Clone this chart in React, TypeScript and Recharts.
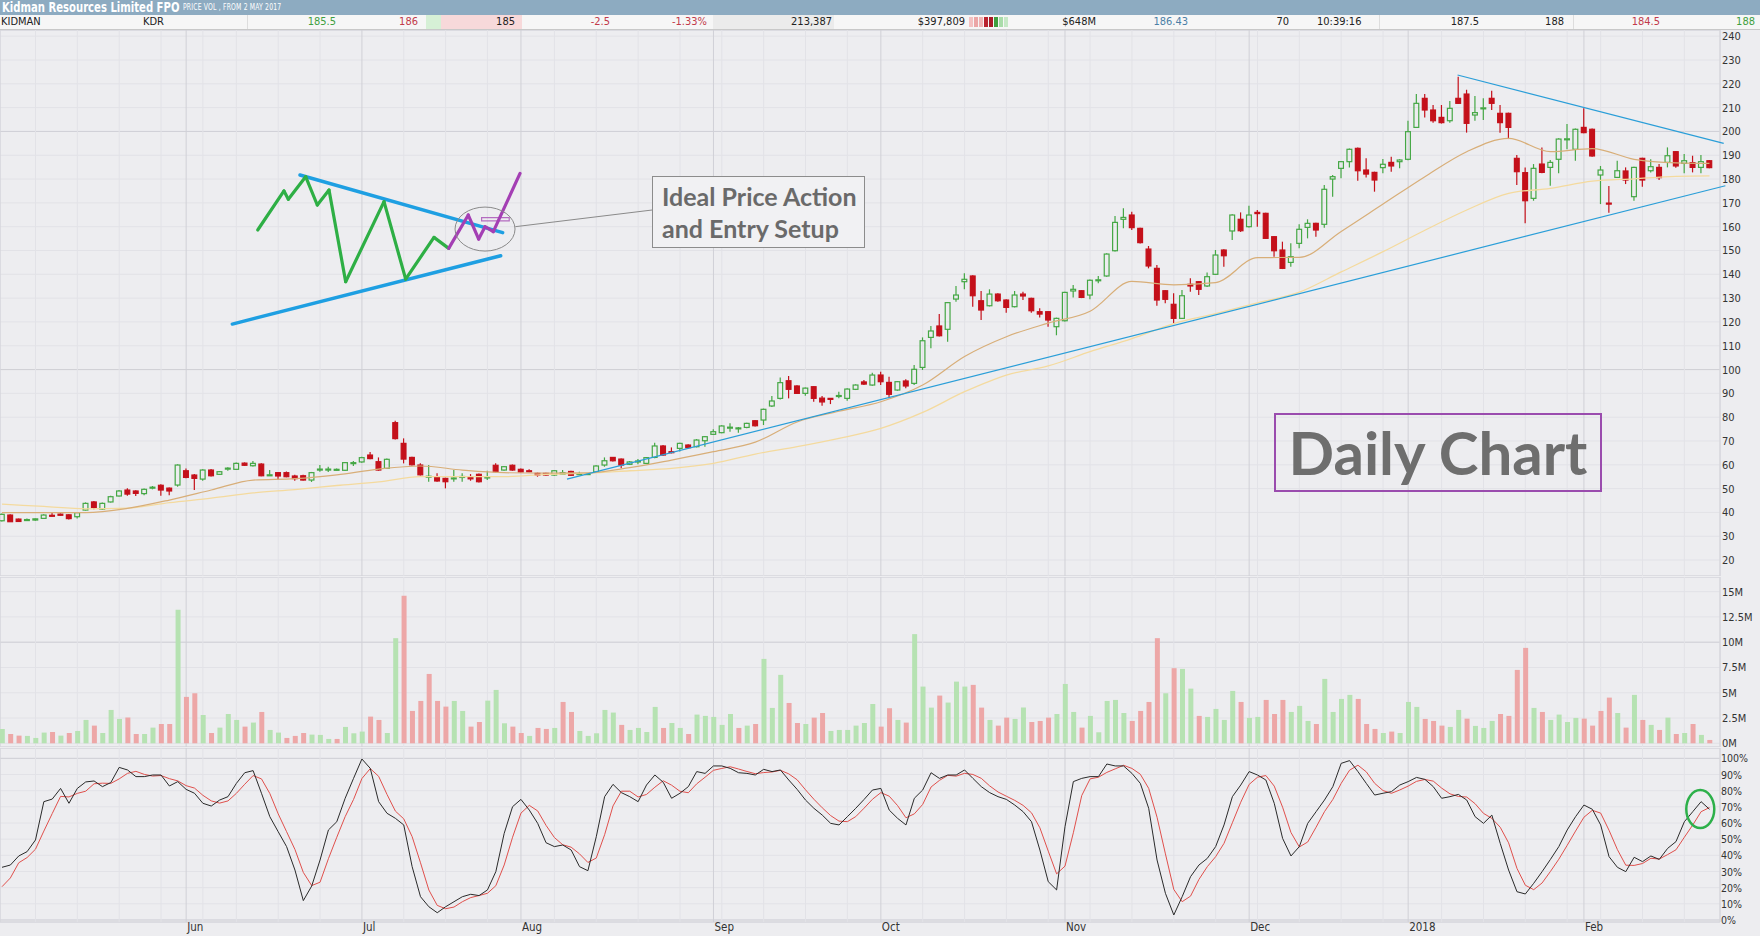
import React from "react";
import {
  ComposedChart,
  Bar,
  Line,
  XAxis,
  YAxis,
  CartesianGrid,
  ReferenceLine,
  ReferenceDot,
  ReferenceArea,
  Cell,
} from "recharts";

// daily candles [open, high, low, close], 2 May 2017 .. mid Feb 2018
const OHLC: [number, number, number, number][] = [
  // May
  [36.5, 39.5, 36.2, 39.2], [38.9, 39.2, 36.0, 36.1], [37.2, 37.4, 36.0, 36.2], [36.6, 37.4, 36.4, 37.0],
  [36.8, 37.6, 36.5, 37.3], [37.5, 39.2, 37.4, 38.9], [38.8, 39.9, 38.2, 38.4], [39.3, 39.6, 38.6, 38.8],
  [39.0, 39.3, 37.0, 37.4], [38.2, 40.2, 37.5, 39.9], [41.0, 44.2, 40.8, 43.8], [44.4, 44.8, 41.3, 42.1],
  [41.4, 44.2, 41.0, 43.8], [44.4, 47.0, 44.2, 46.6], [46.9, 49.4, 46.7, 49.0], [49.4, 50.1, 47.0, 47.7],
  [49.0, 49.3, 46.9, 48.0], [47.9, 50.0, 47.2, 49.7], [50.3, 51.1, 49.7, 50.6], [51.4, 51.8, 47.0, 49.4],
  [50.2, 50.5, 47.2, 49.0], [51.5, 60.2, 50.8, 59.9],
  // Jun
  [57.5, 58.4, 54.3, 54.7], [55.7, 56.1, 49.4, 54.3], [54.0, 58.1, 53.3, 57.8], [57.8, 58.2, 55.1, 55.4],
  [56.0, 57.4, 55.8, 57.1], [58.2, 59.0, 57.5, 58.6], [58.1, 61.0, 57.8, 60.6], [60.7, 61.0, 59.5, 59.8],
  [59.6, 61.6, 59.3, 60.6], [60.3, 60.6, 55.2, 55.4], [55.5, 57.8, 55.4, 55.8], [56.7, 57.0, 53.6, 55.3],
  [56.7, 57.2, 54.8, 55.0], [55.3, 55.8, 53.3, 54.2], [55.4, 55.8, 53.4, 53.6], [53.6, 57.0, 52.8, 56.7],
  [57.9, 59.9, 57.1, 58.2], [57.9, 59.2, 57.0, 58.2], [57.7, 58.4, 57.5, 58.1], [57.7, 61.2, 57.4, 60.9],
  [60.5, 61.6, 59.5, 60.9],
  // Jul
  [61.2, 63.4, 60.9, 63.0], [64.1, 65.4, 62.3, 62.6], [61.3, 63.1, 57.5, 57.8], [58.5, 62.6, 58.2, 62.3],
  [77.7, 78.5, 70.6, 71.0], [69.0, 71.1, 60.6, 62.4], [63.1, 63.4, 59.7, 60.0], [59.9, 60.6, 55.5, 55.8],
  [54.8, 59.9, 52.9, 55.2], [55.0, 56.4, 52.9, 53.2], [54.3, 54.6, 50.1, 52.9], [54.1, 57.8, 52.9, 54.5],
  [54.8, 56.4, 52.9, 55.1], [55.0, 56.1, 53.3, 54.1], [56.0, 56.3, 52.6, 52.9], [54.5, 57.5, 53.6, 54.9],
  [59.8, 60.6, 56.8, 57.1], [57.8, 59.5, 57.5, 59.2], [59.8, 60.1, 57.5, 57.8],
  // Aug
  [58.1, 58.4, 56.8, 57.0], [57.5, 58.1, 56.9, 57.1], [56.4, 56.7, 55.0, 55.7], [56.4, 56.7, 55.5, 55.7],
  [55.7, 57.8, 55.4, 57.5], [56.0, 57.8, 55.8, 56.7], [57.2, 57.5, 55.3, 55.6], [56.0, 57.1, 55.8, 56.3],
  [56.0, 56.6, 55.8, 56.3], [57.0, 59.8, 56.8, 59.5], [59.9, 63.1, 59.2, 61.7], [63.1, 63.3, 61.4, 61.7],
  [62.4, 62.6, 58.5, 59.9], [60.2, 61.6, 59.9, 61.2], [61.4, 62.4, 60.2, 61.6], [60.6, 63.3, 60.3, 63.0],
  [63.1, 69.3, 62.8, 67.9], [67.9, 68.3, 63.8, 64.1], [65.5, 67.3, 64.8, 65.2], [66.9, 69.3, 65.6, 69.0],
  [68.3, 68.6, 66.8, 67.2], [67.6, 70.8, 67.3, 70.4], [70.1, 72.1, 67.6, 71.8],
  // Sep
  [72.8, 74.9, 72.5, 73.9], [73.5, 76.6, 73.2, 76.3], [75.5, 77.4, 73.9, 75.8], [75.3, 75.9, 73.5, 75.5],
  [75.7, 77.7, 75.4, 77.4], [78.5, 78.8, 76.1, 76.4], [78.8, 83.6, 76.7, 83.3], [84.7, 88.9, 84.3, 86.8],
  [87.9, 96.7, 87.4, 94.5], [95.3, 97.3, 87.9, 91.7], [93.1, 93.4, 89.7, 90.0], [90.0, 92.5, 89.0, 92.2],
  [92.8, 93.1, 86.5, 87.9], [88.0, 88.9, 84.8, 86.4], [87.9, 88.0, 85.5, 87.6], [88.8, 90.7, 87.9, 89.1],
  [87.9, 92.1, 86.9, 91.8], [91.7, 93.8, 91.4, 93.5], [94.8, 95.6, 93.5, 93.9], [93.5, 98.7, 93.2, 97.7],
  // Oct
  [97.7, 99.1, 93.5, 94.9], [94.6, 97.0, 87.9, 89.6], [91.4, 95.2, 91.1, 94.9], [95.2, 95.9, 92.1, 93.1],
  [94.2, 101.9, 93.5, 100.1], [100.9, 113.5, 99.8, 112.1], [113.5, 118.3, 108.9, 116.2], [118.3, 123.3, 113.9, 114.2],
  [116.9, 128.4, 111.7, 128.1], [129.6, 135.1, 128.5, 131.3], [136.9, 140.4, 133.7, 137.9], [139.3, 139.6, 126.4, 131.0],
  [128.9, 133.0, 120.8, 125.0], [126.8, 133.7, 126.5, 131.7], [131.7, 132.0, 128.5, 128.9], [129.2, 129.5, 123.9, 126.1],
  [126.4, 133.0, 126.1, 131.3], [131.7, 132.7, 129.2, 130.9], [129.9, 130.2, 123.9, 124.7], [124.3, 125.7, 121.9, 123.3],
  [124.3, 124.6, 118.0, 120.8], [118.0, 121.8, 114.4, 121.5],
  // Nov
  [120.5, 132.7, 120.2, 132.4], [133.0, 135.5, 130.3, 133.7], [133.1, 133.4, 130.0, 130.3], [131.3, 137.8, 129.5, 137.5],
  [137.4, 139.3, 136.2, 137.7], [139.3, 148.8, 139.0, 148.5], [149.9, 164.5, 149.6, 161.8], [163.1, 167.7, 159.3, 163.9],
  [164.9, 166.3, 158.6, 159.6], [159.3, 159.6, 152.9, 153.3], [150.6, 151.9, 142.5, 143.5], [142.5, 143.9, 126.8, 129.2],
  [133.1, 133.4, 127.8, 129.5], [127.4, 132.0, 119.4, 121.5], [121.5, 133.4, 121.2, 131.0], [135.8, 138.3, 132.7, 135.1],
  [136.9, 137.2, 131.3, 133.7], [135.1, 140.8, 134.7, 139.0], [140.0, 150.2, 139.7, 148.1], [150.2, 150.5, 143.2, 147.8],
  [158.2, 165.2, 154.4, 164.9], [163.1, 166.0, 157.8, 158.3],
  // Dec
  [160.0, 168.8, 159.7, 164.9], [166.0, 167.0, 160.0, 165.5], [165.6, 165.9, 154.8, 155.1], [155.8, 156.1, 147.4, 149.9],
  [150.2, 153.7, 142.2, 142.5], [145.0, 153.0, 143.2, 147.4], [153.0, 161.0, 150.9, 158.9], [159.7, 163.1, 155.1, 161.4],
  [161.4, 161.7, 155.8, 158.6], [161.0, 177.5, 159.6, 175.7], [180.0, 181.7, 172.6, 181.0], [184.5, 187.6, 180.3, 187.3],
  [187.3, 192.8, 184.9, 192.5], [192.9, 193.3, 179.3, 183.5], [183.8, 188.7, 180.7, 182.1], [182.8, 183.1, 174.7, 179.6],
  [184.8, 188.4, 182.4, 186.2], [187.0, 189.4, 183.1, 185.5], [187.3, 188.3, 184.5, 188.0],
  // Jan 2018
  [188.3, 204.5, 187.9, 199.9], [201.7, 215.7, 201.4, 211.8], [213.9, 215.7, 205.9, 209.0], [209.0, 211.1, 203.7, 204.5],
  [205.9, 211.1, 203.3, 203.7], [204.5, 212.8, 203.7, 209.7], [213.9, 223.0, 211.5, 211.8], [215.7, 217.5, 199.5, 203.4],
  [206.9, 214.9, 204.5, 207.9], [209.5, 213.9, 204.8, 209.9], [213.9, 217.1, 209.0, 211.8], [207.6, 211.1, 199.5, 203.7],
  [207.6, 207.9, 196.8, 201.7], [188.7, 190.1, 177.5, 183.1], [182.7, 184.9, 161.4, 170.9], [171.9, 186.3, 170.9, 184.5],
  [186.3, 193.3, 182.4, 182.8], [184.9, 188.0, 177.2, 187.0], [188.3, 197.1, 182.4, 196.8], [196.6, 203.1, 192.5, 196.9],
  [192.5, 201.2, 187.7, 200.9],
  // Feb
  [201.7, 209.7, 199.2, 199.5], [200.9, 201.2, 189.4, 189.7], [181.7, 185.5, 169.5, 183.8], [169.9, 177.1, 165.9, 169.5],
  [180.7, 187.7, 180.4, 183.5], [183.4, 184.9, 177.9, 179.6], [172.6, 185.2, 170.9, 184.9], [188.7, 189.0, 176.8, 179.6],
  [183.5, 188.3, 182.8, 185.2], [184.9, 186.3, 179.6, 180.6], [187.0, 193.3, 184.9, 189.8], [191.5, 191.8, 184.8, 185.5],
  [186.6, 190.5, 182.4, 187.7], [186.9, 189.8, 182.8, 184.9], [184.9, 190.1, 182.4, 187.3], [187.7, 188.0, 184.5, 184.8],
];

// volume, millions of shares
const VOLUME = [
  1.42, 0.92, 0.76, 0.73, 0.53, 1.06, 1.12, 0.76, 1.02, 1.22,
  2.31, 1.75, 1.02, 3.3, 2.41, 2.54, 0.92, 0.92, 1.55, 1.91,
  1.91, 13.2, 4.59, 4.95, 2.8, 1.02, 1.55, 2.9, 2.31, 1.65,
  2.05, 3.1, 1.32, 1.06, 0.53, 0.73, 1.02, 0.86, 0.83, 0.43,
  0.43, 1.62, 0.99, 1.16, 2.64, 2.31, 1.02, 10.4, 14.6, 3.2,
  4.19, 6.86, 4.19, 3.63, 4.19, 3.2, 1.65, 2.11, 4.22, 5.28,
  1.98, 1.65, 1.02, 0.73, 1.52, 1.42, 1.52, 4.09, 3.1, 1.22,
  0.73, 0.99, 3.3, 3.04, 1.82, 1.32, 1.52, 1.12, 3.6, 1.52,
  2.01, 1.52, 0.92, 2.84, 2.71, 2.61, 1.82, 2.9, 1.52, 1.75,
  1.91, 8.35, 3.5, 6.77, 3.99, 2.01, 1.91, 2.54, 3.0, 1.22,
  1.32, 1.32, 1.75, 2.01, 3.89, 1.65, 3.47, 2.31, 2.05, 10.8,
  5.61, 3.53, 4.72, 4.03, 6.1, 5.61, 5.78, 3.53, 2.31, 1.75,
  2.54, 2.41, 3.53, 2.11, 2.21, 2.54, 2.9, 5.87, 3.1, 1.55,
  2.71, 1.09, 4.19, 4.29, 3.0, 2.21, 3.2, 4.09, 10.4, 4.95,
  7.43, 7.36, 5.41, 2.71, 2.61, 3.4, 2.31, 5.18, 4.09, 2.51,
  2.61, 4.29, 2.9, 4.29, 3.1, 3.7, 2.21, 1.91, 6.37, 3.1,
  4.39, 4.79, 4.39, 1.91, 1.42, 1.02, 1.16, 1.02, 4.09, 3.6,
  2.41, 2.21, 1.75, 1.62, 3.3, 2.44, 1.72, 1.52, 2.21, 2.9,
  2.71, 7.26, 9.44, 3.5, 3.1, 2.31, 2.84, 2.11, 2.51, 2.44,
  1.75, 3.2, 4.52, 3.0, 1.55, 4.79, 2.31, 1.82, 1.32, 2.54,
  0.92, 1.02, 1.91, 0.83, 0.33,
];

// volume bar colour per day as drawn (G = up day, R = down day)
const VOL_DIR =
  "GRRGGGRGRG" + "GRGGGRRGGR" + "RGRRGRGGGR" + "GRGGRRRGGG" + "RGGGRRGGRR" +
  "RRRRGGRRGG" + "GRRGRRGRRG" + "GGGGRGGGGR" + "GGRGGGGGRG" + "RGGGRRGRRG" +
  "GGGGGRRGRG" + "GGRGGGRRGR" + "RGGRRRGGGR" + "GGGGGRRRRG" + "RGGRGGGGRG" +
  "GRRRGGGRGG" + "GGRRRGRGGG" + "RRRGGRGGGR" + "RRRGRGGGGR" + "RRRGRGRGRG" +
  "RGRGR";

// stochastic %K (black line), percent
const STOCH_K = [
  32.6, 34, 39.6, 42.3, 49.5, 73.2, 74.8, 81.4, 72.2, 81.4,
  85.4, 86, 82.5, 85, 94.4, 92.8, 88.7, 88.7, 89.7, 89.7,
  82.9, 85.6, 80.8, 78.4, 72.2, 70.5, 74.2, 76.3, 84.5, 91.1,
  92.4, 78.4, 63.9, 54.6, 45.4, 30.9, 12, 21, 37.1, 55.7,
  60.8, 75.3, 87.6, 99.6, 93.8, 73.2, 66, 62.9, 58.8, 33,
  14.4, 8.2, 4.5, 8.2, 11.3, 14.4, 15.9, 15.1, 18.6, 29.9,
  53.6, 70.1, 74.6, 68, 59.8, 47.8, 45.4, 46.4, 43.3, 33,
  30.5, 51.5, 76.3, 83.9, 78.8, 76.3, 73.2, 83.5, 89.7, 85.2,
  75.3, 78.4, 82.5, 91.8, 90.7, 95.3, 95.3, 93.8, 91.1, 90.7,
  89.7, 93.2, 91.8, 92.8, 86.6, 80.8, 74.2, 69.1, 64.9, 59.8,
  58.8, 63.9, 69.1, 74.6, 80.4, 81.4, 68, 62.9, 58.8, 75.3,
  80.4, 91.1, 87.6, 89.7, 89.7, 92.8, 87.6, 82.5, 78.8, 76.3,
  74.6, 71.1, 67, 60.8, 43.3, 23.7, 18.6, 57.7, 85.6, 87.6,
  88.7, 88.7, 96.5, 95.3, 95.3, 90.7, 84.5, 69.1, 37.1, 16.5,
  3.1, 14.4, 26.8, 34, 38.1, 45.4, 58.8, 76.3, 83.5, 91.8,
  89.7, 86.6, 72.2, 50.5, 39.6, 45.4, 59.8, 67, 74.2, 82.5,
  96.9, 98.6, 91.8, 84.5, 77.3, 78.4, 79.4, 83.5, 85.6, 88.2,
  87, 82.5, 75.3, 76.3, 77.7, 74.2, 63.9, 59.8, 64.9, 47.4,
  30.9, 17.5, 16.1, 22.7, 29.9, 37.5, 45.4, 55.7, 63.9, 71.1,
  68.5, 58.8, 39.2, 32.6, 29.9, 38.8, 36.1, 39.6, 37.5, 44.3,
  48.5, 60.8, 67, 73.2, 68.5,
];
const STOCH_D_HEAD = [20.6, 26.0];

// moving averages at every 5th session
const MA_IDX = [
  0, 5, 10, 15, 20, 25, 30, 35, 40, 45, 50, 55, 60, 65, 70, 75, 80, 85, 90, 95, 100,
  105, 110, 115, 120, 125, 130, 135, 140, 145, 150, 155, 160, 165, 170, 175, 180, 185, 190, 195, 200, 204,
];
const MA_FAST = [
  39.9, 39.9, 39.9, 41.7, 45.2, 49.4, 53.6, 54.2, 55.8, 58.2, 59.5, 57.8, 56.7, 56.5, 56.6, 58.8, 62.0, 65.5, 69.5, 78.0, 82.5,
  86.5, 93.5, 105.5, 113.8, 119.5, 124.5, 137.0, 135.6, 136.5, 147.0, 147.1, 158.0, 169.5, 181.0, 191.5, 197.1, 191.5, 192.8, 188.3, 186.8, 186.6,
];
const MA_SLOW = [
  43.5, 42.5, 41.5, 41.8, 44.1, 46.0, 48.2, 49.6, 51.3, 52.8, 55.0, 55.0, 55.0, 56.0, 56.5, 57.5, 58.5, 60.6, 64.5, 67.6, 71.1,
  75.3, 82.0, 90.7, 97.7, 101.5, 107.5, 113.0, 119.3, 123.5, 128.0, 132.5, 141.0, 149.5, 158.5, 167.0, 174.0, 176.1, 179.1, 180.1, 181.1, 181.3,
];

// trend lines drawn on the chart: [session, price]
const LOWER_TREND = [[67.5, 54.0], [205.9, 177.2]];
const UPPER_TREND = [[173.9, 223.7], [205.7, 195.0]];

// the hand-drawn pattern sketch, in [session, price]
const SKETCH_GREEN = [
  [30.55, 158.6], [33.69, 175.0], [34.21, 171.5], [36.28, 181.0], [37.67, 169.1], [39.07, 175.4],
  [41.06, 136.9], [45.64, 170.5], [48.23, 138.0], [51.61, 155.5], [53.37, 150.9],
];
const SKETCH_PURPLE = [[53.37, 150.9], [55.71, 164.9], [56.95, 154.8], [57.71, 160.0], [58.7, 157.9], [61.89, 182.4]];
const SKETCH_UPPER = [[35.6, 181.7], [59.82, 157.5]];
const SKETCH_LOWER = [[27.52, 119.1], [59.58, 147.8]];
const SKETCH_RING = [57.71, 159.0];
const SKETCH_FLAG = [[57.3, 162.4], [60.6, 163.8]];
const CALLOUT = [[61.33, 160.0], [77.66, 167.0]];
const STOCH_RING = [202.9, 68.6];

const MONTH_TICKS = [22, 43, 62, 85, 105, 127, 149, 168, 189];
const MONTH_LABELS = ["Jun", "Jul", "Aug", "Sep", "Oct", "Nov", "Dec", "2018", "Feb"];
const WEEK_TICKS = [
  4, 9, 14, 19, 24, 28, 33, 38, 48, 53, 58, 66, 71, 76, 81, 86, 91, 96, 101, 110, 115, 120, 125,
  130, 135, 140, 145, 150, 155, 160, 165, 172, 177, 182, 187, 191, 196, 201,
];
const PRICE_TICKS = [20, 30, 40, 50, 60, 70, 80, 90, 100, 110, 120, 130, 140, 150, 160, 170, 180, 190, 200, 210, 220, 230, 240];
const VOL_TICKS = [0, 2.5, 5, 7.5, 10, 12.5, 15];
const STOCH_TICKS = [0, 10, 20, 30, 40, 50, 60, 70, 80, 90, 100];

const QUOTE = ["KIDMAN", "KDR", "185.5", "186", "185", "-2.5", "-1.33%", "213,387", "$397,809", "$648M", "186.43", "70", "10:39:16", "187.5", "188", "184.5", "188"];

const W = 1760;
const BG = "#EDEDF0";
const UP = "#44A744";
const DOWN = "#C4101A";
const GRID_FAINT = "#E2E2E7";
const GRID_MAJOR = "#D0D0D6";
const NARROW = '"Liberation Sans Narrow", "DejaVu Sans Condensed", "Roboto Condensed", "Liberation Sans", sans-serif';
const X_DOMAIN: [number, number] = [-0.239, 205.257];

const PRICE_TOP = 30;
const PRICE_H = 546;
const VOL_TOP = 577;
const VOL_H = 170;
const STOCH_TOP = 748;
const STOCH_H = 188;

const rows = OHLC.map(([o, h, l, c], i) => {
  const m = MA_IDX.indexOf(i);
  return {
    i,
    o,
    h,
    l,
    c,
    vol: VOLUME[i],
    k: STOCH_K[i],
    d: i < 2 ? STOCH_D_HEAD[i] : (STOCH_K[i] + STOCH_K[i - 1] + STOCH_K[i - 2]) / 3,
    fast: m >= 0 ? MA_FAST[m] : null,
    slow: m >= 0 ? MA_SLOW[m] : null,
  };
});

const seg = (p: number[][]) => [
  { x: p[0][0], y: p[0][1] },
  { x: p[1][0], y: p[1][1] },
];
const pairs = (pts: number[][]) => pts.slice(1).map((p, n) => [pts[n], p]);

const Candle = (props: any) => {
  const { x, y, width, height, payload } = props;
  if (x == null || y == null || !payload) return null;
  const { o, h, l, c } = payload;
  const top = Math.min(y, y + height);
  const span = Math.abs(height);
  const py = (v: number) => (h === l ? top : top + ((h - v) / (h - l)) * span);
  const up = c >= o;
  const col = up ? UP : DOWN;
  const cx = x + width / 2;
  const bTop = py(Math.max(o, c));
  const bH = Math.max(py(Math.min(o, c)) - bTop, 1);
  return (
    <g>
      <line x1={cx} x2={cx} y1={top} y2={bTop} stroke={col} strokeWidth={1.2} />
      <line x1={cx} x2={cx} y1={bTop + bH} y2={top + span} stroke={col} strokeWidth={1.2} />
      <rect x={x + 0.6} y={bTop} width={width - 1.2} height={bH} fill={up ? "none" : col} stroke={col} strokeWidth={1.2} />
    </g>
  );
};

const rightTick = (fmt: (v: number) => string, size = 11) => (p: any) => (
  <text x={p.x} y={p.y} dy={4} textAnchor="start" fontSize={size} fill="#333" fontFamily={NARROW}>
    {fmt(p.payload.value)}
  </text>
);

const monthTick = (p: any) => {
  const n = MONTH_TICKS.indexOf(p.payload.value);
  return (
    <text x={p.x + 1} y={p.y} dy={9} textAnchor="start" fontSize={11.5} fill="#333" fontFamily={NARROW}>
      {MONTH_LABELS[n]}
    </text>
  );
};

// shared x axes + vertical grid for every panel (hidden axes take no room)
const xAxes = (showLabels: boolean) => [
  showLabels ? (
    <XAxis
      key="mo"
      xAxisId="mo"
      dataKey="i"
      type="number"
      domain={X_DOMAIN}
      ticks={MONTH_TICKS}
      interval={0}
      allowDataOverflow
      height={14}
      axisLine={false}
      tickLine={false}
      tickSize={0}
      tickMargin={0}
      tick={monthTick}
    />
  ) : (
    <XAxis key="mo" xAxisId="mo" dataKey="i" type="number" domain={X_DOMAIN} ticks={MONTH_TICKS} allowDataOverflow hide height={0} />
  ),
  <XAxis key="x0" dataKey="i" type="number" domain={X_DOMAIN} allowDataOverflow hide height={0} />,
  <XAxis key="wk" xAxisId="wk" dataKey="i" type="number" domain={X_DOMAIN} ticks={WEEK_TICKS} allowDataOverflow hide height={0} />,
];

const vGrid = () => [
  <CartesianGrid key="gw" xAxisId="wk" horizontal={false} stroke={GRID_FAINT} />,
  <CartesianGrid key="gm" xAxisId="mo" horizontal={false} stroke={GRID_MAJOR} />,
];

const PricePanel = () => (
  <ComposedChart width={W} height={PRICE_H} data={rows} margin={{ top: 0, right: 0, bottom: 0, left: 0 }}>
    {xAxes(false)}
    <YAxis
      orientation="right"
      width={40}
      domain={[13.3, 242.6]}
      ticks={PRICE_TICKS}
      interval={0}
      allowDataOverflow
      axisLine={false}
      tickLine={false}
      tickSize={0}
      tickMargin={2}
      tick={rightTick((v) => String(v))}
    />
    <YAxis yAxisId="maj" orientation="right" hide width={0} domain={[13.3, 242.6]} ticks={[100, 200]} allowDataOverflow />
    <CartesianGrid vertical={false} stroke={GRID_FAINT} />
    <CartesianGrid yAxisId="maj" vertical={false} stroke={GRID_MAJOR} />
    {vGrid()}
    <Line dataKey="slow" type="monotone" stroke="#F4DA9E" strokeWidth={1.3} dot={false} connectNulls isAnimationActive={false} />
    <Line dataKey="fast" type="monotone" stroke="#D8AE78" strokeWidth={1.2} dot={false} connectNulls isAnimationActive={false} />
    <Bar dataKey={(d: any) => [d.l, d.h]} barSize={6} shape={Candle} isAnimationActive={false} />
    <ReferenceLine segment={seg(LOWER_TREND)} stroke="#2A9ED8" strokeWidth={1.2} ifOverflow="visible" />
    <ReferenceLine segment={seg(UPPER_TREND)} stroke="#2A9ED8" strokeWidth={1.2} ifOverflow="visible" />
    <ReferenceLine segment={seg(SKETCH_LOWER)} stroke="#1E9FE2" strokeWidth={3.5} strokeLinecap="round" />
    <ReferenceLine segment={seg(SKETCH_UPPER)} stroke="#1E9FE2" strokeWidth={3.5} strokeLinecap="round" />
    {pairs(SKETCH_GREEN).map((p, n) => (
      <ReferenceLine key={"g" + n} segment={seg(p)} stroke="#2EAF45" strokeWidth={3.2} strokeLinecap="round" />
    ))}
    {pairs(SKETCH_PURPLE).map((p, n) => (
      <ReferenceLine key={"p" + n} segment={seg(p)} stroke="#A43FB4" strokeWidth={3.2} strokeLinecap="round" />
    ))}
    <ReferenceArea
      x1={SKETCH_FLAG[0][0]}
      x2={SKETCH_FLAG[1][0]}
      y1={SKETCH_FLAG[0][1]}
      y2={SKETCH_FLAG[1][1]}
      fill="none"
      stroke="#B46CC0"
      strokeWidth={1.2}
    />
    <ReferenceDot
      x={SKETCH_RING[0]}
      y={SKETCH_RING[1]}
      shape={(p: any) => <ellipse cx={p.cx} cy={p.cy} rx={30} ry={22} fill="none" stroke="#8A8A8A" strokeWidth={1} />}
    />
    <ReferenceLine segment={seg(CALLOUT)} stroke="#8A8A8A" strokeWidth={1} />
  </ComposedChart>
);

const VolumePanel = () => (
  <ComposedChart width={W} height={VOL_H} data={rows} margin={{ top: 0, right: 0, bottom: 0, left: 0 }}>
    {xAxes(false)}
    <YAxis
      orientation="right"
      width={40}
      domain={[-0.366, 16.45]}
      ticks={VOL_TICKS}
      interval={0}
      allowDataOverflow
      axisLine={false}
      tickLine={false}
      tickSize={0}
      tickMargin={2}
      tick={rightTick((v) => v + "M")}
    />
    <YAxis yAxisId="maj" orientation="right" hide width={0} domain={[-0.366, 16.45]} ticks={[10]} allowDataOverflow />
    <CartesianGrid vertical={false} stroke={GRID_FAINT} />
    <CartesianGrid yAxisId="maj" vertical={false} stroke={GRID_MAJOR} />
    {vGrid()}
    <Bar dataKey="vol" barSize={5} isAnimationActive={false}>
      {rows.map((r) => (
        <Cell key={r.i} fill={VOL_DIR[r.i] === "G" ? "#B6E2B2" : "#EDA7A7"} />
      ))}
    </Bar>
  </ComposedChart>
);

const StochPanel = () => (
  <ComposedChart width={W} height={STOCH_H} data={rows} margin={{ top: 0, right: 0, bottom: 0, left: 0 }}>
    {xAxes(true)}
    <YAxis
      orientation="right"
      width={40}
      domain={[-1.24, 106.4]}
      ticks={STOCH_TICKS}
      interval={0}
      allowDataOverflow
      axisLine={false}
      tickLine={false}
      tickSize={0}
      tickMargin={1}
      tick={rightTick((v) => v + "%", 10.5)}
    />
    <YAxis yAxisId="maj" orientation="right" hide width={0} domain={[-1.24, 106.4]} ticks={[0, 100]} allowDataOverflow />
    <CartesianGrid vertical={false} stroke={GRID_FAINT} />
    <CartesianGrid yAxisId="maj" vertical={false} stroke={GRID_MAJOR} />
    {vGrid()}
    <Line dataKey="d" type="linear" stroke="#E0504C" strokeWidth={1} dot={false} isAnimationActive={false} />
    <Line dataKey="k" type="linear" stroke="#2A2A2A" strokeWidth={1} dot={false} isAnimationActive={false} />
    <ReferenceDot
      x={STOCH_RING[0]}
      y={STOCH_RING[1]}
      shape={(p: any) => <ellipse cx={p.cx} cy={p.cy} rx={14} ry={19} fill="none" stroke="#2DB04A" strokeWidth={2.5} />}
    />
  </ComposedChart>
);

// quote strip layout: left edge (l) or right edge (r) of each value
const QUOTE_POS: { l?: number; r?: number; color?: string }[] = [
  { l: 1 }, { l: 143 }, { r: 336, color: "#3F9F3F" }, { r: 418, color: "#C23A4A" }, { r: 515 },
  { r: 610, color: "#C23A4A" }, { r: 707, color: "#C23A4A" }, { r: 832 }, { r: 965 }, { r: 1096 },
  { r: 1188, color: "#4B7FA6" }, { r: 1289 }, { l: 1317 }, { r: 1479 }, { r: 1564 },
  { r: 1660, color: "#C23A4A" }, { r: 1755, color: "#3F9F3F" },
];
const MINI = ["#F3C2C2", "#EBA6A6", "#F0B4B4", "#B9222E", "#A81C28", "#3F9F3F", "#A9DCA9", "#C6E8C6"];

const Header = () => (
  <>
    <div
      style={{
        position: "absolute",
        left: 0,
        top: 0,
        width: W,
        height: 15,
        background: "#8DABC1",
        color: "#fff",
        fontFamily: NARROW,
        whiteSpace: "nowrap",
      }}
    >
      <span
        style={{
          position: "absolute",
          left: 2,
          top: -1,
          fontSize: 14,
          fontWeight: "bold",
          transform: "scaleX(0.8)",
          transformOrigin: "left center",
        }}
      >
        Kidman Resources Limited FPO
      </span>
      <span
        style={{
          position: "absolute",
          left: 183,
          top: 3,
          fontSize: 8,
          letterSpacing: 0.2,
          transform: "scaleX(0.85)",
          transformOrigin: "left center",
        }}
      >
        PRICE VOL , FROM 2 MAY 2017
      </span>
    </div>
    <div
      style={{
        position: "absolute",
        left: 0,
        top: 15,
        width: W,
        height: 14,
        background: "#F6F6F6",
        borderBottom: "1px solid #C8C8C8",
        fontFamily: NARROW,
        fontSize: 11,
        color: "#222",
        whiteSpace: "nowrap",
      }}
    >
      <div style={{ position: "absolute", left: 426, top: 0, width: 15, height: 14, background: "#D6F0D6" }} />
      <div style={{ position: "absolute", left: 441, top: 0, width: 81, height: 14, background: "#F7D9DA" }} />
      <div style={{ position: "absolute", left: 713, top: 0, width: 121, height: 14, background: "#EBEBEB" }} />
      {[247, 1379, 1573].map((x) => (
        <div key={x} style={{ position: "absolute", left: x, top: 0, width: 1, height: 14, background: "#DDDDDD" }} />
      ))}
      {MINI.map((c, n) => (
        <div key={n} style={{ position: "absolute", left: 969 + n * 5, top: 2, width: 4, height: 10, background: c }} />
      ))}
      {QUOTE.map((t, n) => {
        const p = QUOTE_POS[n];
        const pos = p.l != null ? { left: p.l } : { right: W - (p.r as number) };
        return (
          <span key={n} style={{ position: "absolute", top: 0, lineHeight: "14px", color: p.color || "#222", ...pos }}>
            {t}
          </span>
        );
      })}
    </div>
  </>
);

export default function App() {
  return (
    <div style={{ position: "absolute", left: 0, top: 0, width: W, height: 936, background: BG, overflow: "hidden" }}>
      <Header />
      <div style={{ position: "absolute", left: 0, top: PRICE_TOP }}>
        <PricePanel />
      </div>
      <div style={{ position: "absolute", left: 0, top: VOL_TOP }}>
        <VolumePanel />
      </div>
      <div style={{ position: "absolute", left: 0, top: STOCH_TOP }}>
        <StochPanel />
      </div>
      <div
        style={{
          position: "absolute",
          left: 652,
          top: 176,
          width: 213,
          height: 72,
          boxSizing: "border-box",
          border: "1px solid #8C8C8C",
          background: "#F1F1F3",
          color: "#6A6A6A",
          fontFamily: "Lato, 'Open Sans', sans-serif",
          fontWeight: "bold",
          fontSize: 25,
          lineHeight: "32px",
          padding: "3px 0 0 9px",
          whiteSpace: "nowrap",
        }}
      >
        Ideal Price Action
        <br />
        and Entry Setup
      </div>
      <div
        style={{
          position: "absolute",
          left: 1274,
          top: 413,
          width: 328,
          height: 79,
          boxSizing: "border-box",
          border: "2px solid #9A4CAE",
          color: "#6E6E6E",
          fontFamily: "Lato, 'Open Sans', sans-serif",
          fontWeight: "bold",
          fontSize: 60,
          lineHeight: "75px",
          textAlign: "center",
          whiteSpace: "nowrap",
        }}
      >
        Daily Chart
      </div>
    </div>
  );
}
